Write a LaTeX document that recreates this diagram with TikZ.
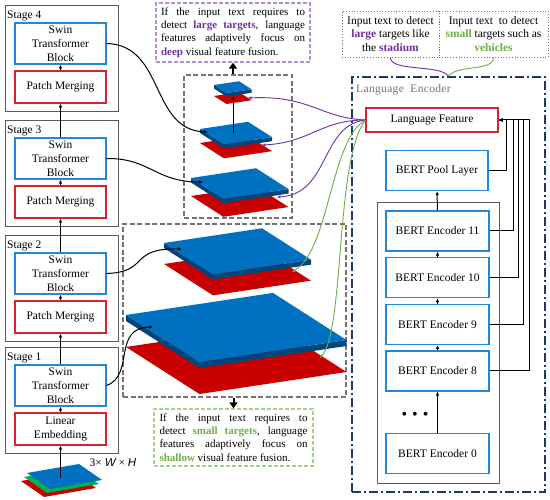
\documentclass[tikz,border=0pt]{standalone}
\usepackage{fontspec}
\setmainfont{Liberation Serif}
\newfontfamily\labelsans{Liberation Sans}
\usetikzlibrary{arrows.meta}

\definecolor{boxblue}{RGB}{35,135,215}
\definecolor{boxred}{RGB}{215,35,45}
\definecolor{slabblue}{RGB}{0,112,192}
\definecolor{slabdark}{RGB}{0,70,125}
\definecolor{platered}{RGB}{200,0,0}
\definecolor{layergreen}{RGB}{0,176,80}
\definecolor{deeppurple}{RGB}{112,48,160}
\definecolor{deepframe}{RGB}{180,140,220}
\definecolor{shallowgreen}{RGB}{112,173,71}
\definecolor{shallowframe}{RGB}{169,209,142}
\definecolor{encnavy}{RGB}{31,56,100}

\newcommand{\hlp}[1]{\textbf{\color{deeppurple}#1}}
\newcommand{\hlg}[1]{\textbf{\color{shallowgreen}#1}}

% #1,#2 left corner of the blue slab, #3 size, #4 drop of red layer, #5 thickness
\newcommand{\featplate}[5]{%
  \fill[platered] (#1,#2+#4) -- ++(#3,-0.15*#3) -- ++(0.5*#3,0.32*#3) -- ++(-#3,0.15*#3) -- cycle;
  \fill[slabdark] (#1,#2) -- ++(0.5*#3,0.32*#3) -- ++(#3,-0.15*#3) -- ++(0,#5) -- ++(-#3,0.15*#3) -- ++(-0.5*#3,-0.32*#3) -- cycle;
  \fill[slabblue] (#1,#2) -- ++(#3,-0.15*#3) -- ++(0.5*#3,0.32*#3) -- ++(-#3,0.15*#3) -- cycle;
}

\tikzset{
  txt/.style={font=\fontsize{11.5}{14}\selectfont, align=center, inner sep=0pt},
  stagebox/.style={draw=black!65, line width=0.9pt, minimum width=113pt, minimum height=106pt},
  swin/.style={txt, draw=boxblue, line width=1.2pt, minimum width=91pt, minimum height=41pt},
  merge/.style={txt, draw=boxred, line width=1.2pt, minimum width=91pt, minimum height=32pt},
  bert/.style={txt, draw=boxblue, line width=1.2pt, minimum width=103pt, minimum height=40pt},
  graybox/.style={draw=black!55, dash pattern=on 5pt off 2.5pt, line width=1.5pt},
  notebox/.style={font=\fontsize{11}{13.3}\selectfont, align=left, inner sep=0pt, dash pattern=on 4pt off 2pt, line width=1.3pt},
  inputbox/.style={txt, font=\fontsize{11.5}{13.5}\selectfont, draw=black!55, dotted, line width=0.8pt, minimum width=#1, minimum height=46pt},
  arr/.style={-{Latex[length=4pt,width=3.5pt]}, line width=1pt},
  bigarr/.style={-{Triangle[length=6pt,width=8pt]}, line width=2pt},
  langarr/.style={-{Stealth[length=4pt,width=3pt]}, line width=0.9pt}
}

\begin{document}
\begin{tikzpicture}[x=1pt,y=-1pt]
  \useasboundingbox (0,0) rectangle (550,500);

  % Left column: backbone stages
  \node[stagebox] (stage4) at (61.5,58) {};
  \node[stagebox] (stage3) at (61.5,173) {};
  \node[stagebox] (stage2) at (61.5,288) {};
  \node[stagebox] (stage1) at (61.5,400) {};
  \node[txt, anchor=west] at (7,16) {Stage 4};
  \node[txt, anchor=west] at (7,131) {Stage 3};
  \node[txt, anchor=west] at (7,246) {Stage 2};
  \node[txt, anchor=west] at (7,358) {Stage 1};

  \node[swin] (swin4) at (60.5,43.5) {Swin\\Transformer\\Block};
  \node[merge] (merge4) at (60.5,87) {Patch Merging};
  \node[swin] (swin3) at (60.5,158.5) {Swin\\Transformer\\Block};
  \node[merge] (merge3) at (60.5,202) {Patch Merging};
  \node[swin] (swin2) at (60.5,273.5) {Swin\\Transformer\\Block};
  \node[merge] (merge2) at (60.5,317) {Patch Merging};
  \node[swin] (swin1) at (60.5,385.5) {Swin\\Transformer\\Block};
  \node[merge] (embed) at (60.5,429) {Linear\\Embedding};

  \draw[arr] (merge4) -- (swin4);
  \draw[arr] (swin3) -- (merge4);
  \draw[arr] (merge3) -- (swin3);
  \draw[arr] (swin2) -- (merge3);
  \draw[arr] (merge2) -- (swin2);
  \draw[arr] (swin1) -- (merge2);
  \draw[arr] (embed) -- (swin1);

  % input image
  \fill[platered] (21,481) -- ++(52,-9) -- ++(23,16) -- ++(-52,9) -- cycle;
  \fill[layergreen] (24,477) -- ++(52,-9) -- ++(23,16) -- ++(-52,9) -- cycle;
  \fill[slabblue] (27,473) -- ++(52,-9) -- ++(23,16) -- ++(-52,9) -- cycle;
  \coordinate (inp) at (60.5,478);
  \draw[arr] (inp) -- (embed);
  \node[txt] (dims) at (113,463) {3× {\labelsans\itshape W} × {\labelsans\itshape H}};

  % Middle: feature pyramid
  \node[graybox, minimum width=108pt, minimum height=143pt] (deepbox) at (238,146.5) {};
  \node[graybox, minimum width=223pt, minimum height=173pt] (lowbox) at (234.5,310.5) {};

  \featplate{126}{315}{147}{32}{6}
  \featplate{164}{243}{98}{21}{5}
  \featplate{191}{178}{65}{18}{4.5}
  \featplate{200}{129}{48}{14}{4}
  \featplate{214}{85}{25}{11}{3.5}

  \coordinate (top2) at (233,133);
  \coordinate (top1) at (233,96);
  \draw[arr] (top2) -- (top1);

  \coordinate (t4) at (208,132);
  \coordinate (t3) at (203,182);
  \coordinate (t2) at (182,249);
  \coordinate (t1) at (153,327);
  \draw[arr] (swin4.east) .. controls (165,45) and (150,130) .. (t4);
  \draw[arr] (swin3.east) .. controls (150,158) and (155,182) .. (t3);
  \draw[arr] (swin2.east) .. controls (150,272) and (128,248) .. (t2);
  \draw[arr] (swin1.east) .. controls (135,375) and (112,328) .. (t1);

  % notes
  \node[notebox, draw=deepframe, minimum width=154pt, minimum height=59pt] (deepnote) at (233,32.5)
    {\makebox[144pt][s]{If the input text requires to}\\
     \makebox[144pt][s]{detect \hlp{large targets}, language}\\
     \makebox[144pt][s]{features adaptively focus on}\\
     \hlp{deep} visual feature fusion.};
  \node[notebox, draw=shallowframe, minimum width=159pt, minimum height=57pt] (shallownote) at (233.5,437.5)
    {\makebox[148pt][s]{If the input text requires to}\\
     \makebox[148pt][s]{detect \hlg{small targets}, language}\\
     \makebox[148pt][s]{features adaptively focus on}\\
     \hlg{shallow} visual feature fusion.};
  \draw[bigarr] (deepbox.north -| deepnote.south) -- (deepnote.south);
  \draw[bigarr] (lowbox.south -| shallownote.north) -- (shallownote.north);

  % Right: language encoder
  \node[inputbox=97pt] (largein) at (390.5,34) {Input text to detect\\\hlp{large} targets like\\the \hlp{stadium}};
  \node[inputbox=109pt] (smallin) at (493.5,34) {Input text\ \ to detect\\\hlg{small} targets such as\\\hlg{vehicles}};

  \node[draw=encnavy, dash pattern=on 9pt off 3pt on 2pt off 3pt, line width=1.6pt, minimum width=193pt, minimum height=415pt] (lenc) at (448.5,284.5) {};
  \node[txt, anchor=west, text=black!55, font=\fontsize{11.5}{14}\selectfont\addfontfeature{LetterSpace=3}] at (356,90) {Language\ \ Encoder};

  \draw[deeppurple, line width=0.9pt] (largein.south) .. controls (390,72) and (440,64) .. (lenc.north);
  \draw[shallowgreen, line width=0.9pt] (smallin.south) .. controls (493,72) and (458,64) .. (lenc.north);

  \node[txt, draw=boxred, line width=1.2pt, minimum width=132pt, minimum height=24pt] (lf) at (432,120) {Language Feature};
  \node[bert, minimum width=102pt] (pool) at (437,170.5) {BERT Pool Layer};
  \node[draw=black!65, line width=0.9pt, minimum width=122pt, minimum height=281pt] (encstack) at (438,342.5) {};
  \node[bert] (enc11) at (437.5,231) {BERT Encoder 11};
  \node[bert] (enc10) at (437.5,277.5) {BERT Encoder 10};
  \node[bert] (enc9) at (437.5,324.5) {BERT Encoder 9};
  \node[bert] (enc8) at (437.5,371) {BERT Encoder 8};
  \node[txt, font=\fontsize{16}{16}\selectfont] (dots) at (415,416) {\textbullet\hspace{5pt}\textbullet\hspace{5pt}\textbullet};
  \node[bert] (enc0) at (437.5,453.5) {BERT Encoder 0};

  \draw[arr] (enc0) -- (enc8);
  \draw[arr] (enc8) -- (enc9);
  \draw[arr] (enc9) -- (enc10);
  \draw[arr] (enc10) -- (enc11);
  \draw[arr] (enc11) -- (pool);

  \draw[arr] (pool.east) -| ([xshift=8pt]lf.east) -- (lf.east);
  \draw[arr] (enc11.east) -| ([xshift=15pt]lf.east) -- (lf.east);
  \draw[arr] (enc10.east) -| ([xshift=20pt]lf.east) -- (lf.east);
  \draw[arr] (enc9.east) -| ([xshift=25pt]lf.east) -- (lf.east);
  \draw[arr] (enc8.east) -| ([xshift=31pt]lf.east) -- (lf.east);

  % language feature into the pyramid
  \coordinate (r1) at (248,98);
  \coordinate (r2) at (262,145);
  \coordinate (r3) at (277,197);
  \coordinate (r4) at (292,272);
  \coordinate (r5) at (320,358);
  \draw[langarr, deeppurple] (lf.west) .. controls (320,118) and (310,95) .. (r1);
  \draw[langarr, deeppurple] (lf.west) .. controls (320,120) and (310,143) .. (r2);
  \draw[langarr, deeppurple] (lf.west) .. controls (320,125) and (330,195) .. (r3);
  \draw[langarr, shallowgreen] (lf.west) .. controls (330,140) and (330,250) .. (r4);
  \draw[langarr, shallowgreen] (lf.west) .. controls (335,160) and (345,330) .. (r5);

\end{tikzpicture}
\end{document}
